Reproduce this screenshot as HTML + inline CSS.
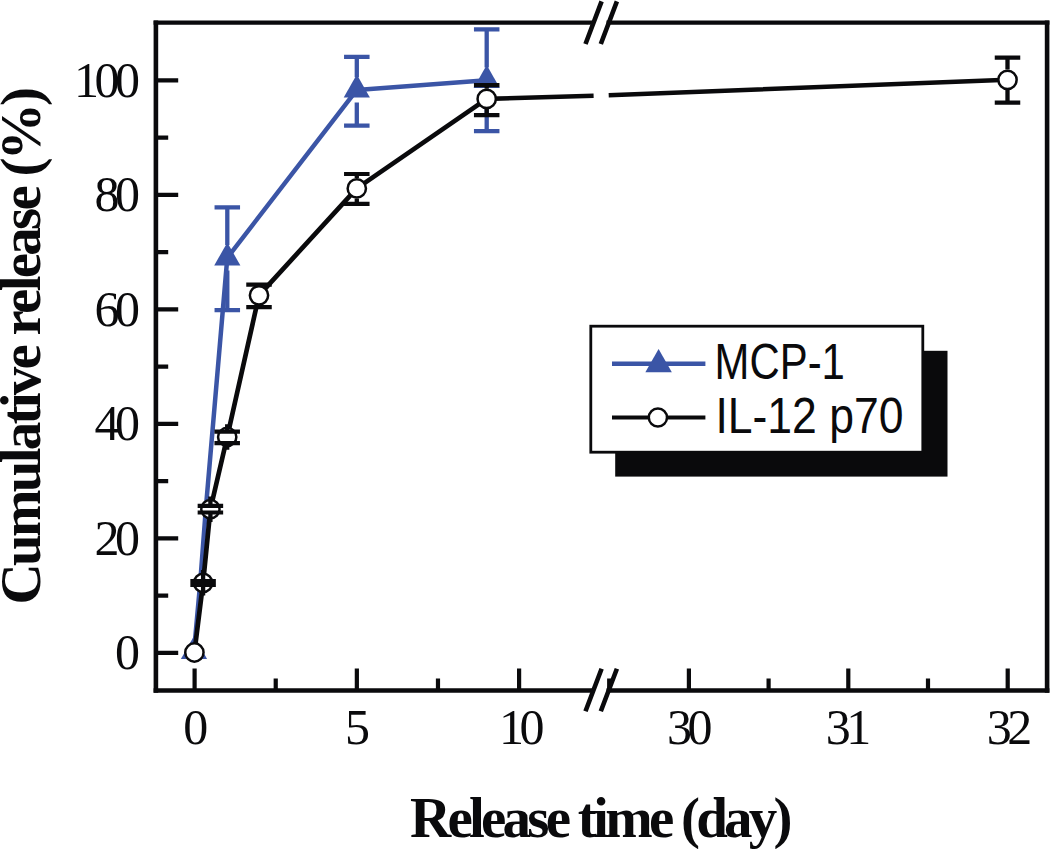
<!DOCTYPE html>
<html><head><meta charset="utf-8"><style>
html,body{margin:0;padding:0;background:#fff;}
body{width:1050px;height:849px;overflow:hidden;}
svg{display:block;}
.tk{font-family:"Liberation Serif",serif;font-size:50px;fill:#0a0a0c;letter-spacing:-4.5px;}
.ttl{font-family:"Liberation Serif",serif;font-weight:bold;font-size:57px;fill:#0a0a0c;}
.lg{font-family:"Liberation Sans",sans-serif;font-size:50.8px;fill:#0a0a0c;}
</style></head><body>
<svg width="1050" height="849" viewBox="0 0 1050 849">
<path d="M155.9 20.5V692.65M1047.1 20.5V692.65" stroke="#0a0a0c" stroke-width="4.6" fill="none"/>
<path d="M153.6 22.65H594.5M606.5 22.65H1049.3999999999999M153.6 690.5H594.5M606.5 690.5H1049.3999999999999" stroke="#0a0a0c" stroke-width="4.3" fill="none"/>
<path d="M155.9 652.80H178.20M155.9 595.55H168.20M155.9 538.30H178.20M155.9 481.05H168.20M155.9 423.80H178.20M155.9 366.55H168.20M155.9 309.30H178.20M155.9 252.05H168.20M155.9 194.80H178.20M155.9 137.55H168.20M155.9 80.30H178.20" stroke="#0a0a0c" stroke-width="4.2" fill="none"/>
<path d="M194.60 690.5V668.40M275.73 690.5V678.40M356.85 690.5V668.40M437.98 690.5V678.40M519.10 690.5V668.40M609.20 690.5V678.40M688.90 690.5V668.40M768.60 690.5V678.40M848.30 690.5V668.40M928.00 690.5V678.40M1007.70 690.5V668.40" stroke="#0a0a0c" stroke-width="4.2" fill="none"/>
<path d="M585.5 711.30L601.6 668.70M600.8 711.30L616.9 668.70" stroke="#0a0a0c" stroke-width="4.6" fill="none"/>
<path d="M585.5 43.95L601.6 1.35M600.8 43.95L616.9 1.35" stroke="#0a0a0c" stroke-width="4.6" fill="none"/>
<text x="135.5" y="669.30" text-anchor="end" class="tk">0</text>
<text x="135.5" y="554.80" text-anchor="end" class="tk">20</text>
<text x="135.5" y="440.30" text-anchor="end" class="tk">40</text>
<text x="135.5" y="325.80" text-anchor="end" class="tk">60</text>
<text x="135.5" y="211.30" text-anchor="end" class="tk">80</text>
<text x="135.5" y="96.80" text-anchor="end" class="tk">100</text>
<text x="193.60" y="743.5" text-anchor="middle" class="tk">0</text>
<text x="355.35" y="743.5" text-anchor="middle" class="tk">5</text>
<text x="519.60" y="743.5" text-anchor="middle" class="tk">10</text>
<text x="687.40" y="743.5" text-anchor="middle" class="tk">30</text>
<text x="846.30" y="743.5" text-anchor="middle" class="tk">31</text>
<text x="1007.20" y="743.5" text-anchor="middle" class="tk">32</text>
<text x="410" y="836.8" class="ttl" letter-spacing="-3.75">Release time (day)</text>
<text transform="translate(40,604.4) rotate(-90)" x="0" y="0" class="ttl" letter-spacing="-2.75">Cumulative release (%)</text>
<polyline points="194.0,651.3 200.2,583.0 205.8,509.0 227.3,257.8 356.8,89.9 486.7,80.3" fill="none" stroke="#3b55a6" stroke-width="4.5" stroke-linejoin="round"/>
<path d="M214.55 207.40H240.05M214.55 310.20H240.05" stroke="#3b55a6" stroke-width="4.2" fill="none"/><path d="M227.30 207.40V245.10M227.30 270.50V310.20" stroke="#3b55a6" stroke-width="4.3" fill="none"/>
<path d="M344.05 56.80H369.55M344.05 125.60H369.55" stroke="#3b55a6" stroke-width="4.2" fill="none"/><path d="M356.80 56.80V77.20M356.80 102.60V125.60" stroke="#3b55a6" stroke-width="4.3" fill="none"/>
<path d="M473.95 29.40H499.45M473.95 131.20H499.45" stroke="#3b55a6" stroke-width="4.2" fill="none"/><path d="M486.70 29.40V67.60M486.70 93.00V131.20" stroke="#3b55a6" stroke-width="4.3" fill="none"/>
<path d="M194.00 635.97L207.10 658.97L180.90 658.97Z" fill="#3b55a6"/>
<path d="M227.30 242.47L240.40 265.47L214.20 265.47Z" fill="#3b55a6"/>
<path d="M356.80 74.57L369.90 97.57L343.70 97.57Z" fill="#3b55a6"/>
<path d="M486.70 64.97L499.80 87.97L473.60 87.97Z" fill="#3b55a6"/>
<polyline points="194.4,652.5 203.1,582.8 210.4,509.2 227.2,437.0 259.0,295.3 356.8,188.4 486.7,98.9" fill="none" stroke="#0a0a0c" stroke-width="4.7" stroke-linejoin="round"/>
<path d="M486.7 98.9L593.6 95.78M608.7 95.23L1007.5 79.8" fill="none" stroke="#0a0a0c" stroke-width="4.6"/>
<circle cx="194.4" cy="652.5" r="9.15" fill="#fff" stroke="#0a0a0c" stroke-width="2.5"/>
<circle cx="203.1" cy="582.8" r="9.15" fill="#fff" stroke="#0a0a0c" stroke-width="2.5"/>
<circle cx="210.4" cy="509.2" r="9.15" fill="#fff" stroke="#0a0a0c" stroke-width="2.5"/>
<circle cx="227.2" cy="437.0" r="9.15" fill="#fff" stroke="#0a0a0c" stroke-width="2.5"/>
<circle cx="259.0" cy="295.3" r="9.15" fill="#fff" stroke="#0a0a0c" stroke-width="2.5"/>
<circle cx="356.8" cy="188.4" r="9.15" fill="#fff" stroke="#0a0a0c" stroke-width="2.5"/>
<circle cx="486.7" cy="98.9" r="9.15" fill="#fff" stroke="#0a0a0c" stroke-width="2.5"/>
<circle cx="1007.5" cy="79.8" r="9.15" fill="#fff" stroke="#0a0a0c" stroke-width="2.5"/>
<path d="M190.35 581.00H215.85M190.35 585.00H215.85" stroke="#0a0a0c" stroke-width="4.2" fill="none"/><path d="M203.10 581.00V570.10M203.10 595.50V585.00" stroke="#0a0a0c" stroke-width="4.3" fill="none"/>
<path d="M197.65 505.90H223.15M197.65 512.50H223.15" stroke="#0a0a0c" stroke-width="4.2" fill="none"/><path d="M210.40 505.90V496.50M210.40 521.90V512.50" stroke="#0a0a0c" stroke-width="4.3" fill="none"/>
<path d="M214.45 431.60H239.95M214.45 443.20H239.95" stroke="#0a0a0c" stroke-width="4.2" fill="none"/><path d="M227.20 431.60V424.30M227.20 449.70V443.20" stroke="#0a0a0c" stroke-width="4.3" fill="none"/>
<path d="M246.25 284.60H271.75M246.25 307.20H271.75" stroke="#0a0a0c" stroke-width="4.2" fill="none"/><path d="M259.00 284.60V285.10M259.00 305.50V307.20" stroke="#0a0a0c" stroke-width="4.3" fill="none"/>
<path d="M344.05 174.00H369.55M344.05 203.80H369.55" stroke="#0a0a0c" stroke-width="4.2" fill="none"/><path d="M356.80 174.00V178.20M356.80 198.60V203.80" stroke="#0a0a0c" stroke-width="4.3" fill="none"/>
<path d="M473.95 85.20H499.45M473.95 115.20H499.45" stroke="#0a0a0c" stroke-width="4.2" fill="none"/><path d="M486.70 85.20V88.70M486.70 109.10V115.20" stroke="#0a0a0c" stroke-width="4.3" fill="none"/>
<path d="M994.75 57.60H1020.25M994.75 102.70H1020.25" stroke="#0a0a0c" stroke-width="4.2" fill="none"/><path d="M1007.50 57.60V69.60M1007.50 90.00V102.70" stroke="#0a0a0c" stroke-width="4.3" fill="none"/>
<rect x="615.2" y="350.8" width="332.3" height="125.8" fill="#0a0a0c"/>
<rect x="590.8" y="326.2" width="332" height="126" fill="#fff" stroke="#0a0a0c" stroke-width="2.8"/>
<path d="M612 363.7H705.4" stroke="#3b55a6" stroke-width="4.5"/>
<path d="M658.60 348.93L671.85 372.13L645.35 372.13Z" fill="#3b55a6"/>
<path d="M612 417.5H705.4" stroke="#0a0a0c" stroke-width="4.2"/>
<circle cx="657.9" cy="417.5" r="9.1" fill="#fff" stroke="#0a0a0c" stroke-width="2.5"/>
<text x="714.6" y="378.9" class="lg" textLength="130.3" lengthAdjust="spacingAndGlyphs">MCP-1</text>
<text x="715.4" y="432.7" class="lg" textLength="188" lengthAdjust="spacingAndGlyphs">IL-12 p70</text>
</svg>
</body></html>
